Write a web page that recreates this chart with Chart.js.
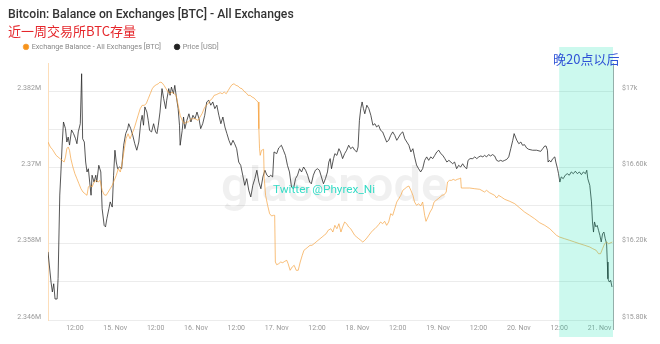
<!DOCTYPE html>
<html><head><meta charset="utf-8">
<script src="https://cdn.jsdelivr.net/npm/chart.js@4.4.0/dist/chart.umd.min.js"></script>
<style>html,body{margin:0;padding:0;background:#fff}#wrap{position:relative;width:660px;height:344px}</style>
</head><body><div id="wrap"><canvas id="c" width="660" height="344"></canvas></div>
<script>
// time axis: hours since 14 Nov 00:00 (UTC)
const xRange = [4, 172];
const xTickHours = [12,24,36,48,60,72,84,96,108,120,132,144,156,168];
const balanceTicks = [2346000,2352000,2358000,2364000,2370000,2376000,2382000];
const priceTicks = [15800,16200,16600,17000];
const highlightHours = [156, 172];

const balanceHours = [
4.0,4.7,5.3,5.8,6.4,7.0,7.6,8.2,8.8,9.2,
9.6,10.0,10.4,10.8,11.4,12.0,12.6,13.2,13.8,14.4,
15.0,15.6,16.0,16.5,17.1,17.7,18.3,18.9,19.5,20.1,
20.7,21.3,21.9,22.5,23.1,23.7,24.3,24.9,25.5,26.1,
26.7,27.2,27.8,28.4,29.0,29.6,30.2,30.8,31.4,32.0,
32.6,33.2,33.8,34.4,35.0,35.6,36.2,36.8,37.3,37.9,
38.5,39.1,39.7,40.3,40.9,41.5,42.1,42.7,43.3,43.9,
44.5,45.1,45.7,46.7,47.7,48.6,49.2,49.8,50.4,51.0,
51.6,52.2,52.8,53.4,54.0,54.6,55.2,55.8,56.4,57.0,
57.6,58.2,58.7,59.3,59.9,60.5,61.1,61.7,62.3,62.9,
63.5,64.1,64.7,65.3,65.9,66.5,66.7,66.9,67.1,67.5,
68.1,68.3,68.7,69.3,69.9,70.5,71.0,71.4,71.6,72.0,
72.6,73.2,73.8,74.4,75.0,75.4,76.0,76.6,77.2,77.8,
78.4,79.0,79.6,80.1,80.7,81.3,81.9,82.5,83.1,83.7,
84.3,84.9,85.5,86.1,86.7,87.3,88.1,88.7,89.3,89.9,
90.5,91.1,91.6,92.2,92.8,93.4,94.0,94.6,95.2,95.8,
96.4,97.0,97.6,98.2,98.8,99.4,100.0,100.6,101.2,101.7,
102.3,102.9,103.5,104.1,104.7,105.3,105.9,106.5,107.1,107.7,
108.3,108.9,109.5,110.1,110.7,111.3,111.9,112.5,113.0,113.6,
114.2,114.8,115.4,116.0,116.4,117.0,117.6,118.2,118.8,119.4,
120.0,120.6,121.2,121.8,122.4,122.8,123.4,124.0,124.5,125.1,
125.7,126.3,126.7,126.9,128.3,129.4,130.9,132.4,133.8,134.4,
135.3,136.8,137.4,138.0,138.8,139.8,141.3,142.8,144.3,145.7,
147.2,148.7,150.2,151.7,153.2,154.2,155.2,156.1,157.6,159.1,
160.6,162.1,163.6,165.1,166.0,167.0,167.7,168.3,168.9,169.5,
170.1,170.7,171.8];

const balanceBTC = [
2373994,2373207,2372846,2372421,2371902,2371635,2371367,2371116,2370848,2371635,
2372940,2373207,2372688,2371367,2370062,2369008,2368222,2367436,2366649,2366130,
2365863,2365611,2366917,2367184,2366917,2367703,2367970,2367703,2367970,2366398,
2365705,2365611,2366130,2366649,2367184,2367970,2368757,2369795,2369276,2370848,
2372940,2374513,2375299,2374513,2375299,2376085,2377139,2378193,2379231,2379765,
2379765,2380017,2380803,2381590,2382376,2382801,2383005,2383163,2383430,2383320,
2382911,2382376,2381857,2381590,2381857,2381590,2381338,2379765,2378193,2377406,
2376872,2377139,2377139,2377658,2377658,2377406,2377925,2378444,2379231,2379765,
2380017,2380552,2380803,2381338,2381432,2381590,2381747,2381590,2381857,2381590,
2382125,2382644,2383005,2383163,2382911,2382801,2382486,2382376,2381967,2381747,
2381338,2381338,2381071,2380914,2380552,2380284,2376085,2372940,2371902,2372688,
2372846,2368222,2365611,2364038,2362717,2362356,2362466,2362466,2355121,2354696,
2354854,2355121,2355011,2355231,2355388,2354854,2353816,2354335,2354602,2353816,
2353816,2355121,2356175,2356961,2357213,2357480,2357748,2357748,2357999,2358267,
2358534,2358786,2359053,2359320,2359572,2360107,2360358,2359839,2360893,2360358,
2361145,2359839,2360626,2361412,2361145,2360626,2360358,2359839,2359320,2359053,
2358786,2358534,2358267,2358534,2358896,2359320,2359729,2360107,2360358,2360626,
2360987,2361412,2361145,2361522,2360893,2361412,2362717,2362465,2363504,2364557,
2365076,2365611,2366398,2366649,2366917,2367074,2366398,2365611,2364557,2364038,
2364290,2363928,2364557,2362466,2361522,2362198,2362985,2363504,2364557,2364825,
2365076,2365344,2365611,2365705,2366130,2367703,2367970,2367970,2368127,2367970,
2368127,2368222,2368332,2366759,2366759,2366759,2366649,2366555,2366130,2366398,
2366020,2365611,2365187,2365611,2365344,2364982,2364668,2364290,2363614,2362985,
2362466,2361931,2361302,2360893,2360358,2359839,2359320,2359053,2358786,2358534,
2358267,2357999,2357748,2357480,2357213,2356961,2356427,2356427,2357213,2357999,
2358267,2357999,2358267];

const priceHours = [
4.0,4.9,5.3,5.7,6.1,6.7,7.0,7.5,7.8,8.2,
8.6,9.2,9.6,10.0,10.4,11.0,11.6,12.2,12.6,13.0,
13.6,14.0,14.3,14.8,15.2,15.6,16.0,16.4,16.8,17.1,
17.7,18.2,18.5,19.1,19.7,20.1,20.7,21.1,21.5,22.1,
22.5,23.1,23.5,23.9,24.3,24.7,25.3,25.9,26.5,27.1,
27.7,28.0,28.6,29.2,29.8,30.4,31.0,31.6,32.0,32.4,
32.8,33.4,33.8,34.2,34.8,35.4,36.0,36.4,36.8,37.3,
37.9,38.4,39.0,39.3,39.9,40.3,40.7,41.3,41.7,42.1,
42.7,43.1,43.3,43.9,44.3,44.7,45.3,45.9,46.5,47.1,
47.7,48.3,48.9,49.4,50.0,50.6,51.2,51.8,52.4,53.0,
53.6,54.2,54.8,55.4,56.0,56.6,57.2,57.8,58.4,59.0,
59.5,60.1,60.7,61.3,61.9,62.5,63.1,63.7,64.3,64.9,
65.5,66.1,66.7,67.3,67.9,68.5,69.1,69.7,70.2,70.8,
71.2,72.0,72.6,73.4,74.0,74.6,75.2,75.8,76.4,77.0,
77.6,78.2,78.8,79.4,80.0,80.6,81.2,81.8,82.3,82.9,
83.5,84.1,84.7,85.3,85.9,86.5,87.1,87.5,87.9,88.3,
88.9,89.3,89.9,90.5,91.0,91.6,92.2,92.8,93.4,94.0,
94.6,95.2,95.8,96.2,96.6,97.0,97.4,97.8,98.2,98.8,
99.4,100.0,100.6,101.2,101.7,102.3,102.9,103.5,104.1,104.7,
105.3,105.9,106.5,107.1,107.7,108.3,108.9,109.5,110.1,110.7,
111.3,111.9,112.5,113.0,113.6,114.2,114.8,115.4,116.0,116.6,
117.2,117.8,118.4,119.0,119.6,120.2,120.8,121.4,122.0,122.6,
123.2,123.8,124.3,124.9,125.5,126.1,126.7,127.3,127.9,128.5,
128.9,129.5,130.3,130.9,131.5,132.1,132.7,133.3,133.8,134.4,
135.0,135.6,136.2,136.8,137.4,138.0,138.6,139.2,139.8,140.4,
141.0,141.6,142.2,142.6,143.0,143.4,144.0,144.6,145.1,145.7,
146.3,146.9,148.1,149.3,150.5,151.1,151.7,152.1,152.5,152.7,
153.1,153.5,154.1,154.7,155.0,155.5,155.8,156.2,156.6,157.2,
157.8,158.4,159.0,159.6,160.2,160.8,161.4,162.0,162.6,163.2,
163.8,164.2,164.5,165.1,165.6,165.9,166.2,166.5,166.9,167.3,
167.7,168.1,168.5,168.9,169.3,169.7,170.1,170.3,170.5,170.9,
171.3,171.7];

const priceUSD = [
16157,15999,15947,15990,15910,15910,16017,16455,16560,16717,
16838,16803,16733,16759,16717,16796,16777,16750,16724,16786,
16829,17091,16750,16733,16628,16576,16593,16523,16454,16559,
16523,16559,16523,16611,16576,16383,16296,16288,16331,16383,
16419,16392,16559,16690,16628,16593,16602,16593,16716,16777,
16803,16829,16803,16768,16724,16690,16733,16838,16873,16821,
16917,16890,16847,16794,16786,16829,16786,16777,16821,16890,
17013,16960,16908,16952,17013,16978,17021,16986,17030,16978,
16908,16821,16716,16794,16864,16803,16847,16881,16838,16873,
16855,16890,16855,16803,16829,16873,16943,16952,16926,16943,
16908,16926,16873,16829,16864,16812,16777,16742,16716,16742,
16724,16698,16628,16611,16559,16506,16541,16480,16445,16506,
16541,16585,16523,16488,16550,16585,16559,16550,16559,16550,
16681,16672,16702,16716,16690,16663,16611,16576,16497,16488,
16541,16559,16593,16576,16602,16585,16559,16523,16514,16559,
16585,16593,16585,16550,16514,16541,16576,16628,16646,16593,
16646,16672,16663,16698,16681,16646,16672,16690,16716,16698,
16707,16690,16681,16707,16847,16908,16943,16908,16881,16926,
16908,16873,16821,16829,16812,16821,16794,16786,16759,16733,
16742,16768,16786,16768,16742,16759,16777,16786,16750,16733,
16716,16681,16698,16655,16611,16593,16576,16593,16637,16655,
16637,16655,16646,16663,16681,16690,16672,16663,16646,16628,
16637,16628,16619,16628,16593,16611,16602,16619,16602,16593,
16637,16646,16646,16655,16646,16655,16660,16655,16663,16655,
16667,16660,16667,16660,16637,16632,16637,16632,16637,16642,
16655,16698,16742,16777,16759,16742,16724,16733,16716,16719,
16702,16695,16690,16690,16684,16698,16712,16712,16690,16628,
16637,16628,16646,16655,16628,16593,16567,16523,16550,16541,
16559,16567,16559,16576,16567,16580,16567,16576,16562,16576,
16567,16585,16541,16506,16419,16314,16261,16314,16288,16296,
16270,16244,16209,16252,16261,16226,16200,16104,16016,15999,
16008,15973];

const balancePts = balanceHours.map((h,i)=>({x:h,y:balanceBTC[i]}));
const pricePts = priceHours.map((h,i)=>({x:h,y:priceUSD[i]}));

const overlay = {
  id:'overlay',
  afterLayout(chart){
    // nudge the legend row into place (item spacing kept by labels.padding)
    const lg = chart.legend;
    if (lg) { lg.top -= 10; lg.left += 2; }
  },
  beforeDatasetsDraw(chart){
    const ctx = chart.ctx;
    ctx.save();
    ctx.font = '600 49px Roboto, sans-serif';
    ctx.fillStyle = 'rgba(0,0,0,0.06)';
    ctx.textBaseline = 'alphabetic';
    ctx.textAlign = 'left';
    ctx.fillText('glassnode', 221, 201);
    ctx.restore();
  },
  afterDraw(chart){
    const ctx = chart.ctx, xs = chart.scales.x;
    const x0 = xs.getPixelForValue(highlightHours[0]);
    const x1 = xs.getPixelForValue(highlightHours[1]);
    ctx.save();
    ctx.fillStyle = 'rgba(0,225,170,0.2)';
    ctx.fillRect(x0, 47, x1 - x0, 337 - 47);
    ctx.strokeStyle = 'rgba(60,110,100,0.55)';
    ctx.lineWidth = 1;
    ctx.beginPath(); ctx.moveTo(Math.round(x1)+0.5, 63); ctx.lineTo(Math.round(x1)+0.5, 330); ctx.stroke();
    ctx.font = '11.8px Roboto, sans-serif';
    ctx.fillStyle = '#35dcc6';
    ctx.textBaseline = 'middle';
    ctx.fillText('Twitter @Phyrex_Ni', 273, 190);
    ctx.font = '13px "Noto Sans CJK SC", sans-serif';
    ctx.fillStyle = '#2f53d6';
    ctx.fillText('晚20点以后', 553, 59);
    ctx.restore();
  }
};

new Chart(document.getElementById('c'), {
  type:'line',
  data:{datasets:[
    {label:'Exchange Balance - All Exchanges [BTC]', data:balancePts, yAxisID:'y',
     borderColor:'rgba(245,160,60,0.68)', backgroundColor:'#f7931a', borderWidth:1, pointRadius:0, tension:0},
    {label:'Price [USD]', data:pricePts, yAxisID:'y1',
     borderColor:'rgba(40,40,40,0.78)', backgroundColor:'#222', borderWidth:1, pointRadius:0, tension:0}
  ]},
  options:{
    responsive:false, animation:false, devicePixelRatio:1,
    layout:{padding:{left:8,right:0,top:0,bottom:0}},
    plugins:{
      title:{display:true, text:'Bitcoin: Balance on Exchanges [BTC] - All Exchanges', align:'start',
        color:'#333', font:{family:'Roboto', size:12.2, weight:'500'}, padding:{top:8,bottom:1}},
      subtitle:{display:true, text:'近一周交易所BTC存量', align:'start', color:'#e5262b',
        font:{family:'"Noto Sans CJK SC"', size:13}, padding:{top:0,bottom:0}},
      legend:{display:true, align:'start', maxHeight:23.8,
        labels:{usePointStyle:true, pointStyle:'circle', boxWidth:4, boxHeight:4, padding:14,
          color:'#888', font:{family:'Roboto', size:7.3}}},
      tooltip:{enabled:false}
    },
    scales:{
      x:{type:'linear', min:xRange[0], max:xRange[1],
        afterBuildTicks:s=>{s.ticks = xTickHours.map(v=>({value:v}));},
        afterFit:s=>{s.height = 24;},
        grid:{display:false, drawTicks:false}, border:{display:false},
        ticks:{autoSkip:false, maxRotation:0, padding:4, color:'#999', font:{family:'Roboto', size:7},
          callback:v=> (v % 24 === 0) ? (14 + v/24) + '. Nov' : '12:00'}},
      y:{position:'left', min:2346000, max:2386420,
        afterBuildTicks:s=>{s.ticks = balanceTicks.map(v=>({value:v}));},
        afterFit:s=>{s.width = 40;},
        grid:{color:'#ececec', drawTicks:false}, border:{color:'rgba(247,147,26,0.3)'},
        ticks:{padding:7, labelOffset:-3, color:'#999', font:{family:'Roboto', size:7},
          callback:v=> ((v-2346000) % 12000 === 0) ? (v/1e6) + 'M' : ''}},
      y1:{position:'right', min:15800, max:17147,
        afterBuildTicks:s=>{s.ticks = priceTicks.map(v=>({value:v}));},
        afterFit:s=>{s.width = 47;},
        grid:{display:false, drawTicks:false}, border:{display:false},
        ticks:{padding:9, labelOffset:-3, color:'#999', font:{family:'Roboto', size:7},
          callback:v=> '$' + (v % 1000 === 0 ? (v/1000) + 'k' : (v/1000).toFixed(2) + 'k')}}
    }
  },
  plugins:[overlay]
});
</script></body></html>
